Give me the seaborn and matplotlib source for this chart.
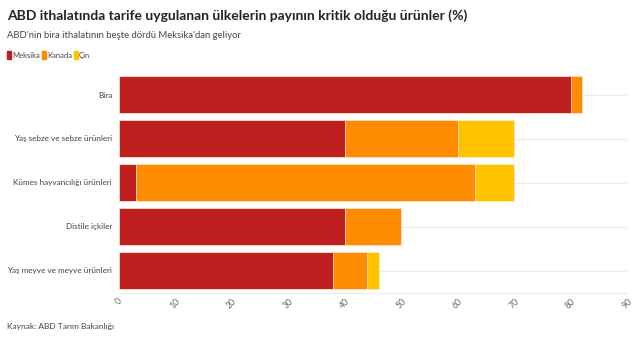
import matplotlib
matplotlib.use("Agg")
import matplotlib.pyplot as plt
import seaborn as sns
import pandas as pd
import numpy as np
from matplotlib.patches import Rectangle

categories = ["Bira", "Yaş sebze ve sebze ürünleri", "Kümes hayvancılığı ürünleri",
              "Distile içkiler", "Yaş meyve ve meyve ürünleri"]
meksika = [80, 40, 3, 40, 38]
kanada = [2, 20, 60, 10, 6]
cin = [0, 10, 7, 0, 2]
series_names = ["Meksika", "Kanada", "Çin"]
colors = ["#C01F20", "#FF8C00", "#FFC300"]
xticks = [0, 10, 20, 30, 40, 50, 60, 70, 80, 90]

sns.set_theme(style="white")
plt.rcParams['font.family'] = ['Lato', 'DejaVu Sans']

df = pd.DataFrame({"cat": categories, "Meksika": meksika, "Kanada": kanada, "Çin": cin})
df["c1"] = df["Meksika"]
df["c2"] = df["Meksika"] + df["Kanada"]
df["c3"] = df["c2"] + df["Çin"]

fig = plt.figure(figsize=(6.4, 3.38), dpi=100)
ax = fig.add_axes([119/640, 1 - 292.5/338, (627-119)/640, (292.5-72.5)/338])

for i in range(5):
    ax.axhline(i, color="#EBEBEB", lw=0.8, zorder=0)

for col, c in zip(["c3", "c2", "c1"], colors[::-1]):
    sns.barplot(data=df, x=col, y="cat", color=c, orient="h", ax=ax, width=0.82,
                edgecolor="#FBE3D0", linewidth=0.6, saturation=1, zorder=2)

ax.set_xlim(0, 90)
ax.set_ylim(4.5, -0.5)
ax.set_xticks(xticks)
ax.set_xticklabels([str(t) for t in xticks], rotation=45, fontsize=6.3, color="#666666")
ax.tick_params(axis="y", labelsize=5.9, labelcolor="#444444", length=0, pad=5)
ax.tick_params(axis="x", length=0, pad=3)
ax.set_xlabel("")
ax.set_ylabel("")
for s in ["top", "right", "left"]:
    ax.spines[s].set_visible(False)
ax.spines["bottom"].set_color("#EBEBEB")
ax.spines["bottom"].set_linewidth(0.8)

fig.text(7/640, 1 - 16/338, "ABD ithalatında tarife uygulanan ülkelerin payının kritik olduğu ürünler (%)",
         fontsize=10, fontweight="bold", color="#222222", va="center", ha="left")
fig.text(7/640, 1 - 35/338, "ABD'nin bira ithalatının beşte dördü Meksika'dan geliyor",
         fontsize=6.8, color="#444444", va="center", ha="left")

x = 7
for name, c in zip(series_names, colors):
    fig.patches.append(Rectangle((x/640, 1 - 59/338), 4/640, 8/338, color=c,
                                 transform=fig.transFigure, figure=fig))
    t = fig.text((x + 5)/640, 1 - 58/338, name, fontsize=5.5, color="#444444",
                 va="baseline", ha="left")
    fig.canvas.draw()
    bb = t.get_window_extent()
    x = bb.x1 + 2

fig.text(7/640, 1 - 326/338, "Kaynak: ABD Tarım Bakanlığı", fontsize=6, color="#444444",
         va="center", ha="left")

fig.savefig("out.png", dpi=100)
